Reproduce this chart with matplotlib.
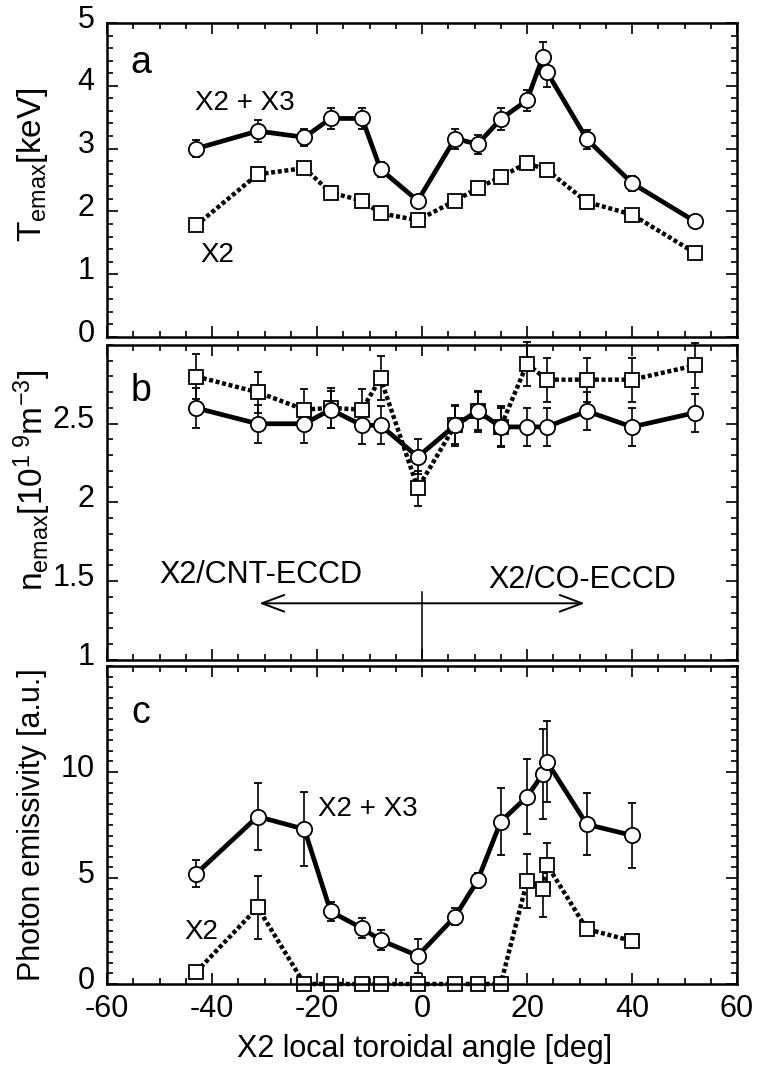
import matplotlib
matplotlib.use('Agg')
import matplotlib.pyplot as plt
import matplotlib.transforms as mtransforms
from matplotlib.ticker import MultipleLocator

plt.rcParams['font.family'] = ['Liberation Sans', 'DejaVu Sans']
plt.rcParams['mathtext.fontset'] = 'custom'
plt.rcParams['mathtext.rm'] = 'Liberation Sans'
plt.rcParams['mathtext.it'] = 'Liberation Sans:italic'
plt.rcParams['axes.unicode_minus'] = False

# toroidal angle positions [deg]
ang_full = [-43, -31.3, -22.4, -17.4, -11.4, -7.9, -0.8, 6.3, 10.6, 15, 20, 23, 23.8, 31.4, 40, 52]
ang_no23 = [-43, -31.3, -22.4, -17.4, -11.4, -7.9, -0.8, 6.3, 10.6, 15, 20, 23.8, 31.4, 40, 52]
ang_b = [-43, -31.3, -22.4, -17.4, -11.4, -7.9, -0.8, 6.3, 10.6, 15, 20, 23.8, 31.4, 40, 52]
ang_c = [-43, -31.3, -22.4, -17.4, -11.4, -7.9, -0.8, 6.3, 10.6, 15, 20, 23, 23.8, 31.4, 40]

# panel a: Te max [keV]
te_x23 = [3.00, 3.28, 3.18, 3.48, 3.48, 2.67, 2.17, 3.16, 3.07, 3.47, 3.77, 4.46, 4.22, 3.15, 2.45, 1.84]
te_x23_err = [0.13, 0.18, 0.14, 0.17, 0.17, 0.12, 0.08, 0.16, 0.15, 0.18, 0.17, 0.24, 0.24, 0.15, 0.12, 0.05]
te_x2 = [1.78, 2.59, 2.69, 2.30, 2.17, 1.97, 1.86, 2.17, 2.37, 2.55, 2.77, 2.66, 2.15, 1.95, 1.34]
te_x2_err = [0.05, 0.07, 0.08, 0.06, 0.06, 0.06, 0.06, 0.06, 0.07, 0.07, 0.08, 0.08, 0.06, 0.05, 0.05]

# panel b: ne max [1e19 m^-3]
ne_x23 = [2.60, 2.50, 2.50, 2.59, 2.49, 2.49, 2.29, 2.49, 2.58, 2.48, 2.48, 2.48, 2.58, 2.48, 2.57]
ne_x23_err = [0.13, 0.12, 0.12, 0.12, 0.12, 0.12, 0.11, 0.12, 0.12, 0.12, 0.12, 0.12, 0.12, 0.12, 0.12]
ne_x2 = [2.80, 2.70, 2.59, 2.60, 2.59, 2.79, 2.09, 2.49, 2.58, 2.48, 2.88, 2.78, 2.78, 2.78, 2.87]
ne_x2_err = [0.14, 0.13, 0.13, 0.13, 0.13, 0.14, 0.11, 0.13, 0.13, 0.13, 0.14, 0.14, 0.14, 0.14, 0.14]

# panel c: photon emissivity [a.u.]
ph_x23 = [5.21, 7.90, 7.30, 3.42, 2.63, 2.07, 1.33, 3.18, 4.89, 7.66, 8.83, 9.90, 10.49, 7.53, 7.01]
ph_x23_err = [0.63, 1.58, 1.74, 0.47, 0.47, 0.47, 0.79, 0.40, 0.35, 1.58, 1.76, 2.14, 1.90, 1.46, 1.52]
ph_x2 = [0.57, 3.61, 0, 0, 0, 0, 0, 0, 0, 0, 4.84, 4.49, 5.63, 2.59, 2.03]
ph_x2_err = [0.1, 1.47, 0, 0, 0, 0, 0, 0, 0, 0, 1.27, 1.34, 1.03, 0.2, 0.1]

fig = plt.figure(figsize=(7.63, 10.7), dpi=100)
L, W = 107 / 763, 630 / 763
ax_a = fig.add_axes([L, 1 - 337 / 1070, W, 314 / 1070])
ax_b = fig.add_axes([L, 1 - 660 / 1070, W, 315 / 1070])
ax_c = fig.add_axes([L, 1 - 984 / 1070, W, 318 / 1070])

sq_style = dict(color='black', marker='s', markersize=9.5, markerfacecolor='white',
                markeredgecolor='black', markeredgewidth=1.3, linewidth=3.2,
                linestyle=(0, (0.9, 0.6)), elinewidth=1.2, capsize=3.2, capthick=1.2,
                ecolor='black', clip_on=False)
ci_style = dict(color='black', marker='o', markersize=11, markerfacecolor='white',
                markeredgecolor='black', markeredgewidth=1.3, linewidth=3.4,
                linestyle='-', elinewidth=1.2, capsize=3.2, capthick=1.2,
                ecolor='black', clip_on=False)

ax_a.errorbar(ang_no23, te_x2, yerr=te_x2_err, **sq_style)
ax_a.errorbar(ang_full, te_x23, yerr=te_x23_err, **ci_style)
ax_b.errorbar(ang_b, ne_x2, yerr=ne_x2_err, **sq_style)
ax_b.errorbar(ang_b, ne_x23, yerr=ne_x23_err, **ci_style)
ax_c.errorbar(ang_c, ph_x2, yerr=ph_x2_err, **sq_style)
ax_c.errorbar(ang_c, ph_x23, yerr=ph_x23_err, **ci_style)

for ax in (ax_a, ax_b, ax_c):
    ax.set_xlim(-60, 60)
    ax.xaxis.set_major_locator(MultipleLocator(20))
    ax.xaxis.set_minor_locator(MultipleLocator(5))
    ax.tick_params(which='both', direction='in', top=True, right=True, width=1.2)
    ax.tick_params(which='major', length=8, labelsize=22, pad=9)
    ax.tick_params(which='minor', length=4)
    for s in ax.spines.values():
        s.set_linewidth(1.8)

ax_a.set_ylim(0, 5)
ax_a.set_yticks([0, 1, 2, 3, 4, 5])
ax_a.yaxis.set_minor_locator(MultipleLocator(0.2))
ax_a.tick_params(axis='x', labelbottom=False)

ax_b.set_ylim(1, 3)
ax_b.set_yticks([1, 1.5, 2, 2.5])
ax_b.set_yticklabels(['1', '1.5', '2', '2.5'])
ax_b.yaxis.set_minor_locator(MultipleLocator(0.1))
ax_b.tick_params(axis='x', labelbottom=False)

ax_c.set_ylim(0, 15)
ax_c.set_yticks([0, 5, 10])
ax_c.yaxis.set_minor_locator(MultipleLocator(0.5))
ax_c.set_xticks([-60, -40, -20, 0, 20, 40, 60])
ax_c.tick_params(axis='x', pad=7)

# y tick labels sit a little above their ticks in the original
lift = mtransforms.ScaledTranslation(0, 5 / 72, fig.dpi_scale_trans)
for ax in (ax_a, ax_b, ax_c):
    for lab in ax.get_yticklabels():
        lab.set_transform(lab.get_transform() + lift)

# panel letters and series labels
ax_a.text(-53.6, 4.36, 'a', fontsize=27, ha='center', va='center')
ax_a.text(-33.7, 3.73, 'X2 + X3', fontsize=20, ha='center', va='center')
ax_a.text(-38.9, 1.31, 'X2', fontsize=20, ha='center', va='center')

ax_b.text(-53.6, 2.71, 'b', fontsize=27, ha='center', va='center')
ax_b.text(-30.7, 1.54, 'X2/CNT-ECCD', fontsize=22, ha='center', va='center')
ax_b.text(30.5, 1.51, 'X2/CO-ECCD', fontsize=22, ha='center', va='center')
ax_b.axvline(0, ymin=0, ymax=0.215, color='black', linewidth=1.1)
arrow = dict(arrowstyle='->,head_length=0.8,head_width=0.3', color='black',
             linewidth=1.4, mutation_scale=20, shrinkA=0, shrinkB=0)
ax_b.annotate('', xy=(-31, 1.36), xytext=(0, 1.36), arrowprops=arrow)
ax_b.annotate('', xy=(31, 1.36), xytext=(0, 1.36), arrowprops=arrow)

ax_c.text(-53.6, 12.8, 'c', fontsize=27, ha='center', va='center')
ax_c.text(-10.4, 8.26, 'X2 + X3', fontsize=20, ha='center', va='center')
ax_c.text(-42.1, 2.47, 'X2', fontsize=20, ha='center', va='center')

# axis titles
fig.text(32 / 763, 1 - 165 / 1070, r'T$_{\rm emax}$[keV]', rotation=90,
         fontsize=24, ha='center', va='center')
fig.text(32 / 763, 1 - 480 / 1070, r'n$_{\rm emax}$[10$^{1\ 9}$m$^{-3}$]', rotation=90,
         fontsize=24, ha='center', va='center')
fig.text(32 / 763, 1 - 825 / 1070, 'Photon emissivity [a.u.]', rotation=90,
         fontsize=22, ha='center', va='center')
fig.text(425 / 763, 1 - 1049 / 1070, 'X2 local toroidal angle [deg]',
         fontsize=22, ha='center', va='center')

fig.savefig('out.png', dpi=100)
